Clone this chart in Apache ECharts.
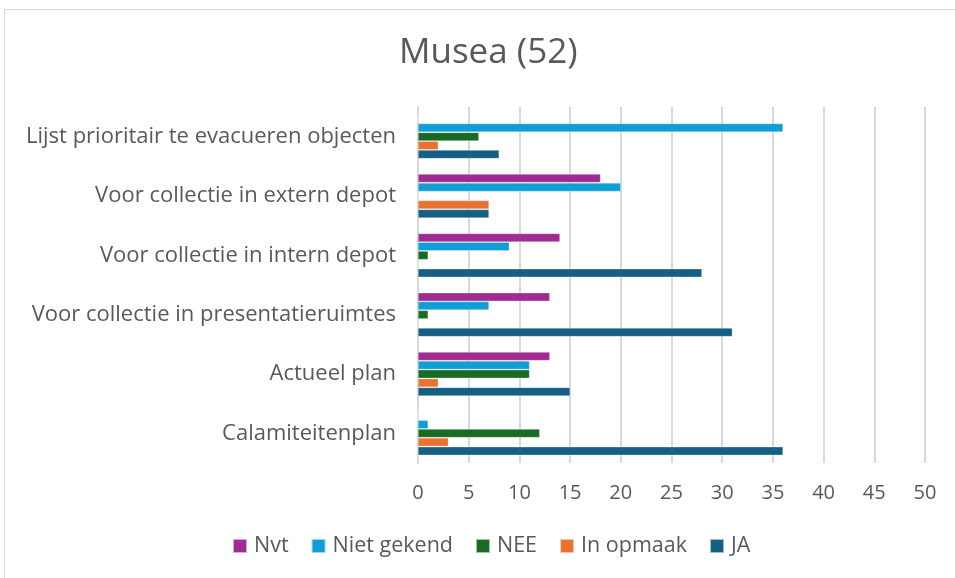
<!DOCTYPE html>
<html>
<head>
<meta charset="utf-8">
<script src="https://cdn.jsdelivr.net/npm/echarts@6/dist/echarts.min.js"></script>
<style>
  html, body { margin: 0; padding: 0; background: #fff; }
  #frame { position: absolute; left: 4px; top: 9px; width: 1000px; height: 700px; border: 1px solid #d9d9d9; }
  #main { position: absolute; left: 0; top: 0; width: 955px; height: 578px; }
</style>
</head>
<body>
<div id="frame"></div>
<div id="main"></div>
<script>
// categories from bottom to top
var categories = ['Calamiteitenplan', 'Actueel plan', 'Voor collectie in presentatieruimtes',
    'Voor collectie in intern depot', 'Voor collectie in extern depot', 'Lijst prioritair te evacueren objecten'];
var nvt = [0, 13, 13, 14, 18, 0];
var nietGekend = [1, 11, 7, 9, 20, 36];
var nee = [12, 11, 1, 1, 0, 6];
var inOpmaak = [3, 2, 0, 0, 7, 2];
var ja = [36, 15, 31, 28, 7, 8];
var seriesNames = ['Nvt', 'Niet gekend', 'NEE', 'In opmaak', 'JA'];
var colors = ['#A02B93', '#0F9ED5', '#196B24', '#E97132', '#156082'];

var myChart = echarts.init(document.getElementById('main'));
var font = '"Open Sans", sans-serif';
var allData = [nvt, nietGekend, nee, inOpmaak, ja];
var series = [];
for (var i = 0; i < seriesNames.length; i++) {
    series.push({
        name: seriesNames[i],
        type: 'bar',
        data: allData[i],
        barWidth: 8.5,
        barGap: '4%',
        itemStyle: { color: colors[i], borderColor: 'rgba(255,255,255,0.6)', borderWidth: 0.5 }
    });
}

var option = {
    title: {
        text: 'Musea (52)',
        left: 394,
        top: 31,
        textStyle: { fontFamily: font, fontSize: 35, fontWeight: 'normal', color: '#595959' }
    },
    legend: {
        data: seriesNames,
        bottom: 16,
        left: 227,
        icon: 'rect',
        itemWidth: 14,
        itemHeight: 14,
        itemGap: 22,
        textStyle: { fontFamily: font, fontSize: 21.5, color: '#595959', padding: [0, 0, 0, 2] }
    },
    grid: { left: 418, right: 30, top: 107, bottom: 115 },
    xAxis: {
        type: 'value',
        min: 0,
        max: 50,
        interval: 5,
        axisLine: { show: false },
        axisTick: { show: false },
        axisLabel: { fontFamily: font, fontSize: 20, color: '#595959', margin: 20 },
        splitLine: { lineStyle: { color: '#d9d9d9', width: 2 } }
    },
    yAxis: {
        type: 'category',
        data: categories,
        axisLine: { lineStyle: { color: '#d9d9d9', width: 2 } },
        axisTick: { show: false },
        axisLabel: { fontFamily: font, fontSize: 22, color: '#595959', margin: 22 }
    },
    series: series
};
myChart.setOption(option);
</script>
</body>
</html>
